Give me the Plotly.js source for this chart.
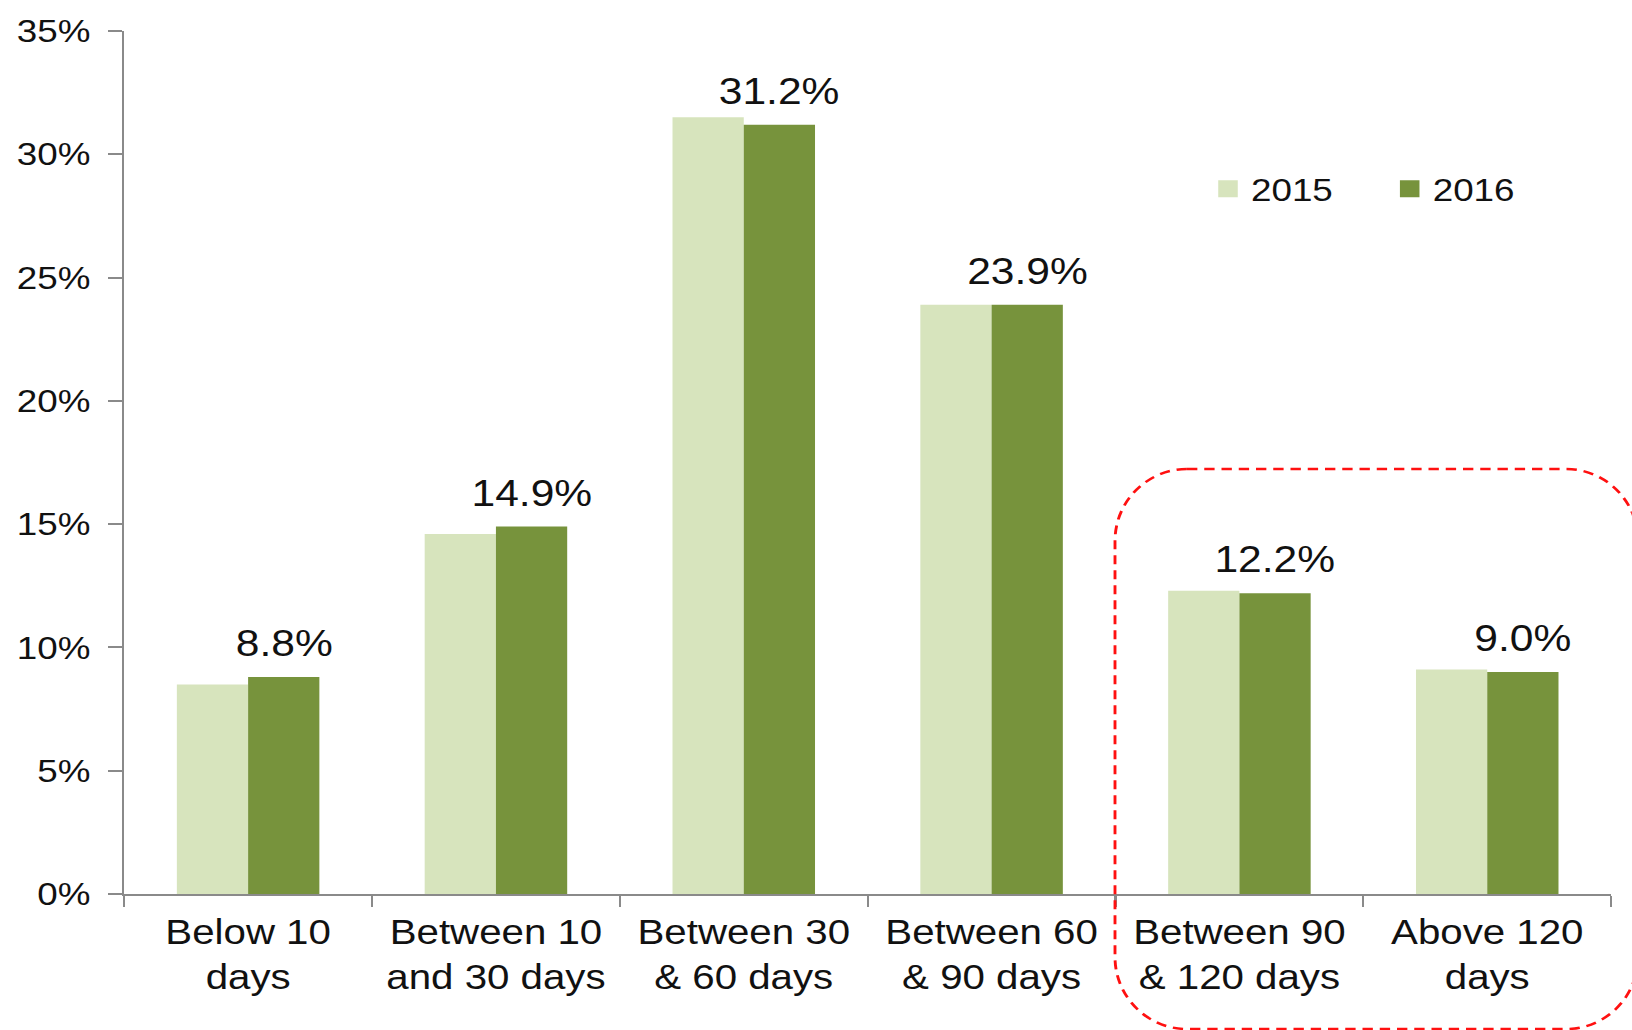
<!DOCTYPE html>
<html><head><meta charset="utf-8">
<script src="https://cdn.plot.ly/plotly-3.0.1.min.js"></script>
<style>
html,body{margin:0;padding:0;background:#fff;overflow:hidden;}
#chart{width:1419px;height:1030px;transform:scaleX(1.15);transform-origin:0 0;}
</style>
</head><body><div id="chart"></div>
<script>
// ---- data ----
const categories = ["Below 10<br>days", "Between 10<br>and 30 days", "Between 30<br>& 60 days", "Between 60<br>& 90 days", "Between 90<br>& 120 days", "Above 120<br>days"];
const seriesNames = ["2015", "2016"];
const values2015 = [8.5, 14.6, 31.5, 23.9, 12.3, 9.1];
const values2016 = [8.8, 14.9, 31.2, 23.9, 12.2, 9.0];
const yTickVals = [0, 5, 10, 15, 20, 25, 30, 35];
const yTickText = ["0%", "5%", "10%", "15%", "20%", "25%", "30%", "35%"];
const labelText2016 = values2016.map(v => v.toFixed(1) + "%");

// ---- styling / layout ----
const STRETCH = 1.15;
const W = 1419, H = 1030;
const M = {l: 108, r: 18, t: 31, b: 136};
const PW = W - M.l - M.r, PH = H - M.t - M.b;
const BARGAP = 0.425;
const FONT = "Liberation Sans, Arial, sans-serif";
const axisGray = "#8a8a8a";

const catWidth = PW / categories.length;
const darkOffset = catWidth * (1 - BARGAP) / 4;

// highlight box (full-page pixel positions -> paper coords)
const px = X => (X / STRETCH - M.l) / PW;
const py = Y => (M.t + PH - Y) / PH;
function roundRectPath(x0, y0, x1, y1, R) {
  const k = 0.5523 * R;
  const P = (X, Y) => px(X).toFixed(5) + "," + py(Y).toFixed(5);
  return "M" + P(x0 + R, y0) + " L" + P(x1 - R, y0) +
    " C" + P(x1 - R + k, y0) + " " + P(x1, y0 + R - k) + " " + P(x1, y0 + R) +
    " L" + P(x1, y1 - R) +
    " C" + P(x1, y1 - R + k) + " " + P(x1 - R + k, y1) + " " + P(x1 - R, y1) +
    " L" + P(x0 + R, y1) +
    " C" + P(x0 + R - k, y1) + " " + P(x0, y1 - R + k) + " " + P(x0, y1 - R) +
    " L" + P(x0, y0 + R) +
    " C" + P(x0, y0 + R - k) + " " + P(x0 + R - k, y0) + " " + P(x0 + R, y0) + " Z";
}

const traces = [
  {type: "bar", name: seriesNames[0], x: categories, y: values2015,
   marker: {color: "#d7e4bd", line: {width: 0}}, hoverinfo: "skip"},
  {type: "bar", name: seriesNames[1], x: categories, y: values2016,
   marker: {color: "#77933c", line: {width: 0}}, hoverinfo: "skip"}
];

const annotations = categories.map((c, i) => ({
  x: c, y: values2016[i], xref: "x", yref: "y",
  text: labelText2016[i], showarrow: false,
  xanchor: "center", yanchor: "bottom", xshift: darkOffset, yshift: 11,
  font: {family: FONT, size: 37, color: "#111"}
}));

const layout = {
  width: W, height: H,
  margin: M,
  paper_bgcolor: "#fff", plot_bgcolor: "#fff",
  barmode: "group", bargap: BARGAP, bargroupgap: 0,
  font: {family: FONT, color: "#111"},
  showlegend: true,
  legend: {orientation: "h", x: px(1205), xanchor: "left", y: py(189), yanchor: "middle",
           font: {family: FONT, size: 32, color: "#111"}, bgcolor: "rgba(0,0,0,0)",
           entrywidth: 113, entrywidthmode: "pixels", traceorder: "normal"},
  xaxis: {type: "category", showline: true, linecolor: axisGray, linewidth: 2,
          ticks: "outside", tickson: "boundaries", ticklen: 11, tickwidth: 2, tickcolor: axisGray,
          showgrid: false, zeroline: false, fixedrange: true, ticklabelstandoff: 6,
          tickfont: {family: FONT, size: 35, color: "#111"}},
  yaxis: {range: [0, 35], tickvals: yTickVals, ticktext: yTickText,
          showline: true, linecolor: axisGray, linewidth: 2,
          ticks: "outside", ticklen: 12, tickwidth: 2, tickcolor: axisGray,
          showgrid: false, zeroline: false, fixedrange: true, ticklabelstandoff: 9,
          tickfont: {family: FONT, size: 32, color: "#111"}},
  annotations: annotations,
  shapes: [{type: "path", xref: "paper", yref: "paper", layer: "above",
            path: roundRectPath(1115, 469, 1638, 1029, 72),
            line: {color: "#ff1010", width: 2.5, dash: "9px,6px"}}]
};

Plotly.newPlot("chart", traces, layout, {staticPlot: true, displayModeBar: false}).then(gd => {
  gd.querySelectorAll(".legend .legendpoints path").forEach(p => {
    p.setAttribute("d", "M8.5,8.5H-8.5V-8.5H8.5Z");
  });
});
</script>
</body></html>
